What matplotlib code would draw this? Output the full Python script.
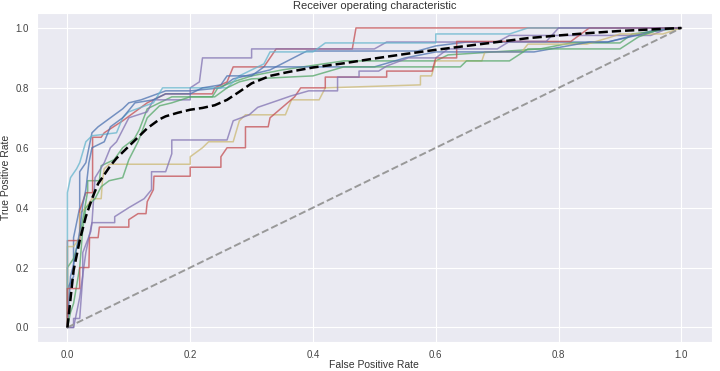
import matplotlib
matplotlib.use("Agg")
import matplotlib.pyplot as plt
import seaborn as sns

# ROC curves per fold (fpr, tpr)
FOLDS_FPR = [
    [0, 0, 0.01, 0.01, 0.02, 0.02, 0.03, 0.04, 0.05, 0.07, 0.09, 0.10, 0.12, 0.16, 0.20, 0.25, 0.27, 0.33, 0.39, 0.57, 0.60, 0.65, 0.85, 0.88, 0.97, 1.0],
    [0, 0, 0.01, 0.02, 0.025, 0.033, 0.033, 0.052, 0.055, 0.076, 0.09, 0.109, 0.117, 0.13, 0.15, 0.17, 0.236, 0.245, 0.27, 0.30, 0.35, 0.45, 0.60, 0.62, 0.77, 0.82, 0.90, 0.92, 1.0],
    [0, 0, 0.02, 0.02, 0.025, 0.03, 0.041, 0.041, 0.055, 0.06, 0.09, 0.11, 0.13, 0.16, 0.236, 0.24, 0.26, 0.27, 0.32, 0.33, 0.34, 0.464, 0.47, 1.0],
    [0, 0.01, 0.02, 0.03, 0.04, 0.045, 0.06, 0.07, 0.08, 0.09, 0.10, 0.13, 0.14, 0.20, 0.20, 0.215, 0.22, 0.30, 0.30, 0.50, 0.52, 0.70, 0.72, 0.95, 0.98, 1.0],
    [0, 0, 0.01, 0.02, 0.02, 0.03, 0.04, 0.055, 0.057, 0.06, 0.068, 0.20, 0.20, 0.22, 0.23, 0.27, 0.28, 0.29, 0.355, 0.365, 0.41, 0.42, 0.575, 0.575, 0.593, 0.60, 0.675, 0.68, 0.74, 0.75, 0.846, 0.886, 0.90, 0.97, 1.0],
    [0, 0, 0, 0.005, 0.015, 0.02, 0.03, 0.04, 0.08, 0.09, 0.10, 0.14, 0.155, 0.26, 0.28, 0.32, 0.33, 0.40, 0.42, 0.60, 0.60, 0.72, 0.75, 1.0],
    [0, 0.005, 0.01, 0.02, 0.025, 0.03, 0.035, 0.04, 0.06, 0.07, 0.09, 0.11, 0.14, 0.16, 0.20, 0.22, 0.25, 0.26, 0.30, 0.32, 0.50, 0.55, 0.60, 0.76, 0.85, 0.88, 0.98, 1.0],
    [0, 0.005, 0.01, 0.02, 0.025, 0.03, 0.045, 0.055, 0.068, 0.09, 0.10, 0.115, 0.13, 0.15, 0.17, 0.20, 0.24, 0.26, 0.28, 0.30, 0.40, 0.45, 0.64, 0.65, 0.72, 0.75, 0.90, 0.93, 0.97, 1.0],
    [0, 0, 0.02, 0.02, 0.035, 0.036, 0.05, 0.052, 0.10, 0.10, 0.115, 0.128, 0.13, 0.14, 0.141, 0.20, 0.20, 0.25, 0.25, 0.26, 0.29, 0.29, 0.327, 0.33, 0.35, 0.37, 0.38, 0.42, 0.42, 0.52, 0.52, 0.594, 0.60, 0.634, 0.634, 0.82, 0.85, 1.0],
    [0, 0.01, 0.01, 0.02, 0.025, 0.025, 0.038, 0.04, 0.077, 0.077, 0.10, 0.125, 0.137, 0.137, 0.16, 0.17, 0.17, 0.26, 0.27, 0.296, 0.31, 0.34, 0.364, 0.393, 0.41, 0.44, 0.44, 0.475, 0.475, 0.507, 0.52, 0.555, 0.60, 0.62, 0.70, 0.72, 0.78, 0.80, 1.0],
]
FOLDS_TPR = [
    [0, 0.13, 0.17, 0.30, 0.40, 0.52, 0.55, 0.65, 0.67, 0.70, 0.73, 0.75, 0.76, 0.79, 0.79, 0.80, 0.83, 0.86, 0.923, 0.923, 0.94, 0.953, 0.953, 0.953, 1.0, 1.0],
    [0, 0.20, 0.23, 0.30, 0.36, 0.455, 0.49, 0.49, 0.54, 0.56, 0.60, 0.63, 0.66, 0.73, 0.75, 0.77, 0.77, 0.80, 0.82, 0.84, 0.86, 0.89, 0.89, 0.91, 0.93, 0.95, 0.95, 0.98, 1.0],
    [0, 0.29, 0.29, 0.39, 0.42, 0.45, 0.45, 0.635, 0.635, 0.65, 0.69, 0.72, 0.75, 0.78, 0.78, 0.80, 0.82, 0.87, 0.87, 0.90, 0.93, 0.93, 1.0, 1.0],
    [0, 0.0, 0.10, 0.25, 0.35, 0.50, 0.55, 0.60, 0.62, 0.66, 0.70, 0.72, 0.76, 0.76, 0.80, 0.82, 0.90, 0.90, 0.93, 0.93, 0.953, 0.953, 0.975, 0.975, 1.0, 1.0],
    [0, 0.27, 0.27, 0.30, 0.38, 0.40, 0.43, 0.43, 0.49, 0.53, 0.545, 0.545, 0.57, 0.60, 0.62, 0.62, 0.69, 0.71, 0.71, 0.76, 0.76, 0.80, 0.81, 0.84, 0.84, 0.89, 0.89, 0.92, 0.92, 0.946, 0.946, 0.97, 0.98, 0.98, 1.0],
    [0, 0.30, 0.45, 0.50, 0.53, 0.55, 0.62, 0.64, 0.65, 0.70, 0.72, 0.75, 0.80, 0.80, 0.84, 0.88, 0.92, 0.92, 0.95, 0.95, 0.98, 0.98, 1.0, 1.0],
    [0, 0.17, 0.21, 0.32, 0.41, 0.46, 0.55, 0.60, 0.62, 0.67, 0.70, 0.75, 0.76, 0.78, 0.78, 0.80, 0.81, 0.84, 0.84, 0.87, 0.87, 0.90, 0.92, 0.92, 0.953, 0.953, 1.0, 1.0],
    [0, 0.05, 0.08, 0.20, 0.33, 0.40, 0.43, 0.47, 0.49, 0.50, 0.56, 0.62, 0.70, 0.74, 0.75, 0.77, 0.77, 0.80, 0.82, 0.83, 0.84, 0.87, 0.87, 0.89, 0.89, 0.93, 0.93, 0.97, 1.0, 1.0],
    [0, 0.13, 0.13, 0.20, 0.20, 0.30, 0.30, 0.335, 0.335, 0.36, 0.38, 0.38, 0.42, 0.46, 0.505, 0.505, 0.535, 0.535, 0.57, 0.60, 0.60, 0.67, 0.67, 0.70, 0.735, 0.77, 0.80, 0.80, 0.836, 0.836, 0.856, 0.856, 0.90, 0.90, 0.955, 0.955, 1.0, 1.0],
    [0, 0, 0.03, 0.03, 0.17, 0.25, 0.32, 0.35, 0.35, 0.37, 0.40, 0.43, 0.46, 0.52, 0.52, 0.58, 0.626, 0.626, 0.69, 0.71, 0.735, 0.756, 0.773, 0.79, 0.79, 0.79, 0.836, 0.836, 0.856, 0.856, 0.873, 0.90, 0.90, 0.93, 0.93, 0.955, 0.955, 1.0, 1.0],
]

# mean ROC
MEAN_FPR = [0, 0.01, 0.02, 0.03, 0.04, 0.05, 0.06, 0.07, 0.08, 0.09, 0.10, 0.11, 0.12, 0.13, 0.14, 0.15, 0.16, 0.18, 0.20, 0.22, 0.24, 0.26, 0.28, 0.30, 0.33, 0.36, 0.40, 0.45, 0.50, 0.55, 0.60, 0.65, 0.70, 0.75, 0.80, 0.85, 0.90, 0.95, 1.0]
MEAN_TPR = [0, 0.19, 0.29, 0.37, 0.43, 0.48, 0.51, 0.54, 0.565, 0.585, 0.605, 0.625, 0.645, 0.665, 0.68, 0.695, 0.705, 0.717, 0.727, 0.733, 0.742, 0.76, 0.787, 0.815, 0.84, 0.853, 0.868, 0.882, 0.898, 0.913, 0.927, 0.94, 0.953, 0.966, 0.975, 0.983, 0.99, 0.995, 1.0]

COLORS = ["#4C72B0", "#55A868", "#C44E52", "#8172B2", "#CCB974", "#64B5CD"]

sns.set_style("darkgrid")
plt.rcParams["font.family"] = ["Liberation Sans", "DejaVu Sans"]

fig, ax = plt.subplots(figsize=(7.2, 3.71), dpi=100)
fig.subplots_adjust(left=0.051, right=0.989, bottom=0.077, top=0.965)

for i, (fpr, tpr) in enumerate(zip(FOLDS_FPR, FOLDS_TPR)):
    ax.plot(fpr, tpr, color=COLORS[i % len(COLORS)], lw=1.1, alpha=0.75)

ax.plot([0, 1], [0, 1], linestyle="--", color="#999999", lw=1.4)
ax.plot(MEAN_FPR, MEAN_TPR, "k--", lw=1.8)

ax.set_xlim(-0.05, 1.05)
ax.set_ylim(-0.05, 1.05)
ax.tick_params(labelsize=7, colors="#444444", pad=2)
ax.set_xlabel("False Positive Rate", fontsize=7.5, color="#333333", labelpad=0)
ax.set_ylabel("True Positive Rate", fontsize=7.5, color="#333333", labelpad=3)
ax.set_title("Receiver operating characteristic", fontsize=8, color="#333333", pad=3)

plt.savefig("out.png", dpi=100)
